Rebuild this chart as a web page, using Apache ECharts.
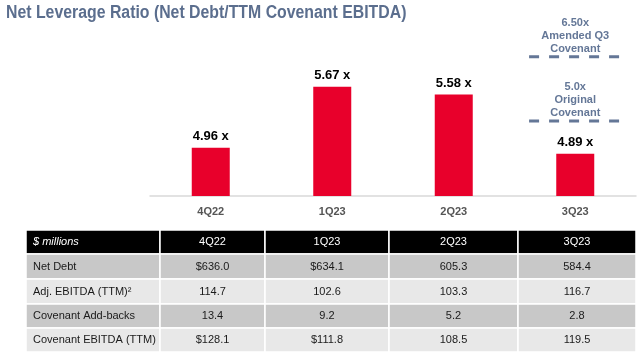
<!DOCTYPE html>
<html>
<head>
<meta charset="utf-8">
<script src="https://cdn.jsdelivr.net/npm/echarts@6/dist/echarts.min.js"></script>
<style>
  html, body { margin: 0; padding: 0; background: #fff; }
  #chart { width: 640px; height: 354px; }
</style>
</head>
<body>
<div id="chart"></div>
<script>
// chart data
const quarters = ['4Q22', '1Q23', '2Q23', '3Q23'];
const leverage = [4.96, 5.67, 5.58, 4.89];

// covenant levels shown over the last quarter
const covenantQuarter = '3Q23';
const covenantLevels = [5.0, 6.5];
const covenantNames = ['5.0x\nOriginal\nCovenant', '6.50x\nAmended Q3\nCovenant'];

// table
const tableHeader = ['$ millions', '4Q22', '1Q23', '2Q23', '3Q23'];
const rowLabels = ['Net Debt', 'Adj. EBITDA (TTM)²', 'Covenant Add-backs', 'Covenant EBITDA (TTM)'];
const netDebt = ['$636.0', '$634.1', '605.3', '584.4'];
const adjEbitda = ['114.7', '102.6', '103.3', '116.7'];
const addBacks = ['13.4', '9.2', '5.2', '2.8'];
const covEbitda = ['$128.1', '$111.8', '108.5', '119.5'];

const chart = echarts.init(document.getElementById('chart'));

const FONT = '"Liberation Sans", Arial, sans-serif';
const slate = '#647797';

// table layout
const colEdges = [26, 160, 265, 389, 518, 636];
const rowEdges = [230, 254, 279, 304, 328, 352];
const tableRows = [netDebt, adjEbitda, addBacks, covEbitda];

function buildTable() {
    const els = [];
    const allRows = [tableHeader].concat(tableRows.map((r, i) => [rowLabels[i]].concat(r)));
    allRows.forEach((row, ri) => {
        const y0 = rowEdges[ri], y1 = rowEdges[ri + 1];
        const fill = ri === 0 ? '#000' : (ri % 2 === 1 ? '#c8c8c8' : '#e8e8e8');
        row.forEach((txt, ci) => {
            const x0 = colEdges[ci], x1 = colEdges[ci + 1];
            els.push({
                type: 'rect',
                shape: { x: x0, y: y0, width: x1 - x0, height: y1 - y0 },
                style: { fill: fill, stroke: '#fff', lineWidth: 1.5 },
                silent: true
            });
            els.push({
                type: 'text',
                x: ci === 0 ? x0 + 7 : (x0 + x1) / 2,
                y: (y0 + y1) / 2,
                style: {
                    text: txt,
                    fill: ri === 0 ? '#fff' : '#1a1a1a',
                    font: (ri === 0 && ci === 0 ? 'italic ' : '') + '11px ' + FONT,
                    align: ci === 0 ? 'left' : 'center',
                    verticalAlign: 'middle'
                },
                silent: true
            });
        });
    });
    // title, slightly condensed like the slide font
    els.push({
        type: 'text',
        x: 6,
        y: 4,
        scaleX: 0.88,
        style: {
            text: 'Net Leverage Ratio (Net Debt/TTM Covenant EBITDA)',
            fill: '#5b6e8e',
            font: 'bold 18px ' + FONT,
            align: 'left',
            verticalAlign: 'top'
        },
        silent: true
    });
    return els;
}

const option = {
    animation: false,
    grid: { left: 150, right: 4, top: 24, bottom: 158 },
    xAxis: {
        type: 'category',
        data: quarters,
        axisLine: { lineStyle: { color: '#d9d9d9', width: 1.5 } },
        axisTick: { show: false },
        axisLabel: { color: '#555', fontSize: 11, fontWeight: 'bold', fontFamily: FONT, margin: 10 }
    },
    yAxis: [
        { type: 'value', min: 4.4, max: 6.4, show: false },
        { type: 'value', min: 3.24, max: 7.27, show: false }
    ],
    series: [
        {
            type: 'bar',
            data: leverage,
            barWidth: 38,
            itemStyle: { color: '#e8002b' },
            label: {
                show: true,
                position: 'top',
                distance: 5,
                formatter: p => p.value.toFixed(2) + ' x',
                color: '#000',
                fontSize: 13,
                fontWeight: 'bold',
                fontFamily: FONT
            }
        },
        {
            type: 'custom',
            yAxisIndex: 1,
            data: covenantLevels.map((v, i) => [covenantQuarter, v, i]),
            renderItem: function (params, api) {
                const pt = api.coord([api.value(0), api.value(1)]);
                const bw = api.size([1, 0])[0];
                const half = bw * 0.38;
                return {
                    type: 'group',
                    children: [
                        {
                            type: 'line',
                            shape: { x1: pt[0] - half, y1: pt[1], x2: pt[0] + half, y2: pt[1] },
                            style: { stroke: slate, lineWidth: 3, lineDash: [10, 10] }
                        },
                        {
                            type: 'text',
                            x: pt[0],
                            y: pt[1] - 2,
                            style: {
                                text: covenantNames[api.value(2)],
                                fill: slate,
                                font: 'bold 11px ' + FONT,
                                lineHeight: 12.7,
                                align: 'center',
                                verticalAlign: 'bottom'
                            }
                        }
                    ]
                };
            }
        }
    ],
    graphic: buildTable()
};

chart.setOption(option);
</script>
</body>
</html>
